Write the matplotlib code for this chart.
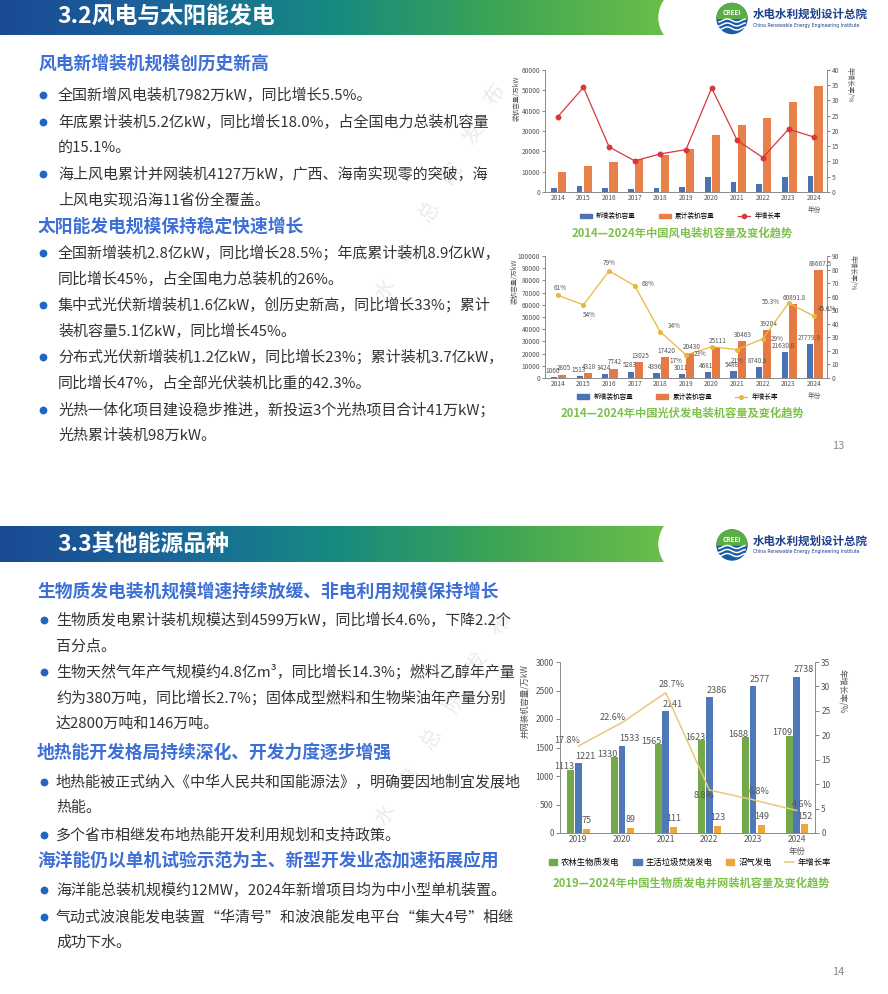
import numpy as np
import matplotlib
matplotlib.use('Agg')
import matplotlib.pyplot as plt
from matplotlib.colors import LinearSegmentedColormap
from matplotlib.patches import Ellipse, Circle, Wedge, Patch
from matplotlib.lines import Line2D

plt.rcParams['font.family'] = ['Noto Sans CJK SC', 'DejaVu Sans']
plt.rcParams['axes.unicode_minus'] = False

W, H = 888, 994

# ---- chart data ----
years_wind = ['2014', '2015', '2016', '2017', '2018', '2019', '2020', '2021', '2022', '2023', '2024']
wind_new = [1981, 3075, 1930, 1503, 2100, 2574, 7167, 4757, 3763, 7566, 7982]
wind_total = [9637, 12934, 14747, 16367, 18426, 21005, 28153, 32848, 36544, 44134, 52068]
wind_growth = [24.7, 34.3, 14.8, 10.2, 12.5, 13.9, 34.1, 16.9, 11.3, 20.6, 18.0]

years_pv = years_wind
pv_new = [1060, 1513, 3424, 5283, 4396, 3011, 4681, 5488, 8740.8, 21630.0, 27779.9]
pv_total = [2805, 4318, 7742, 13025, 17420, 20430, 25111, 30463, 39204, 60891.8, 88667.5]
pv_growth = [61, 54, 79, 68, 34, 17, 23, 21, 29, 55.3, 45.6]

years_bio = ['2019', '2020', '2021', '2022', '2023', '2024']
bio_agri = [1113, 1330, 1565, 1623, 1688, 1709]
bio_waste = [1221, 1533, 2141, 2386, 2577, 2738]
bio_gas = [75, 89, 111, 123, 149, 152]
bio_growth = [17.8, 22.6, 28.7, 8.8, 6.8, 4.6]

# ---- slide text ----
page1 = [
    ('h', 64, '风电新增装机规模创历史新高'),
    ('b', 95, ['全国新增风电装机7982万kW，同比增长5.5%。']),
    ('b', 122, ['年底累计装机5.2亿kW，同比增长18.0%，占全国电力总装机容量', '的15.1%。']),
    ('b', 174, ['海上风电累计并网装机4127万kW，广西、海南实现零的突破，海', '上风电实现沿海11省份全覆盖。']),
    ('h', 227, '太阳能发电规模保持稳定快速增长'),
    ('b', 253, ['全国新增装机2.8亿kW，同比增长28.5%；年底累计装机8.9亿kW，', '同比增长45%，占全国电力总装机的26%。']),
    ('b', 305, ['集中式光伏新增装机1.6亿kW，创历史新高，同比增长33%；累计', '装机容量5.1亿kW，同比增长45%。']),
    ('b', 357, ['分布式光伏新增装机1.2亿kW，同比增长23%；累计装机3.7亿kW，', '同比增长47%，占全部光伏装机比重的42.3%。']),
    ('b', 410, ['光热一体化项目建设稳步推进，新投运3个光热项目合计41万kW；', '光热累计装机98万kW。']),
]
page2 = [
    ('h', 592, '生物质发电装机规模增速持续放缓、非电利用规模保持增长'),
    ('b', 620, ['生物质发电累计装机规模达到4599万kW，同比增长4.6%，下降2.2个', '百分点。']),
    ('b', 672, ['生物天然气年产气规模约4.8亿m³，同比增长14.3%；燃料乙醇年产量',
                '约为380万吨，同比增长2.7%；固体成型燃料和生物柴油年产量分别', '达2800万吨和146万吨。']),
    ('h', 753, '地热能开发格局持续深化、开发力度逐步增强'),
    ('b', 782, ['地热能被正式纳入《中华人民共和国能源法》，明确要因地制宜发展地', '热能。']),
    ('b', 835, ['多个省市相继发布地热能开发利用规划和支持政策。']),
    ('h', 861, '海洋能仍以单机试验示范为主、新型开发业态加速拓展应用'),
    ('b', 890, ['海洋能总装机规模约12MW，2024年新增项目均为中小型单机装置。']),
    ('b', 917, ['气动式波浪能发电装置“华清号”和波浪能发电平台“集大4号”相继', '成功下水。']),
]

fig = plt.figure(figsize=(W / 100, H / 100), dpi=100)
fig.patch.set_facecolor('white')
bg = fig.add_axes([0, 0, 1, 1])
bg.axis('off')


def px_axes(x0, y0, x1, y1):
    return fig.add_axes([x0 / W, 1 - y1 / H, (x1 - x0) / W, (y1 - y0) / H])


band_cmap = LinearSegmentedColormap.from_list(
    'band', ['#1b4a94', '#1a669c', '#168a80', '#3ea553', '#6cbf47'])


def logo(cx, cy):
    bg.add_patch(Circle((cx, cy), 15, color='#1c5aa6', zorder=3))
    bg.add_patch(Wedge((cx, cy), 15, 180, 360, color='#5aae44', zorder=3))
    t = np.linspace(-13, 13, 50)
    for dy in (2, 6, 10):
        bg.plot(cx + t, cy + dy + 1.5 * np.sin(t / 3), color='white', lw=1.1, zorder=4)
    bg.text(cx, cy - 6, 'CREEI', color='white', fontsize=4.5, style='italic',
            fontweight='bold', ha='center', va='center', zorder=5)
    bg.text(cx + 21, cy - 4, '水电水利规划设计总院', fontsize=8.3, fontweight='bold',
            color='#1d3f8c', va='center')
    bg.text(cx + 21, cy + 7, 'China Renewable Energy Engineering Institute', fontsize=3.3,
            color='#1d3f8c', va='center', family='DejaVu Sans')


def header(y0, y1, title):
    grad = np.linspace(0, 1, 300).reshape(1, -1)
    bg.imshow(grad, cmap=band_cmap, extent=[0, 668, y1, y0], aspect='auto', zorder=1)
    bg.add_patch(Ellipse((682, (y0 + y1) / 2), 46, (y1 - y0) * 1.5, color='white', zorder=2))
    bg.text(57, (y0 + y1) / 2, title, color='white', fontsize=16.5, fontweight='bold',
            va='center', zorder=3)
    logo(732, (y0 + y1) / 2 + 1)


def write_block(items, x_head, x_dot, x_txt):
    for kind, y, content in items:
        if kind == 'h':
            bg.text(x_head, y, content, fontsize=12.8, fontweight='bold', color='#3d6fd6', va='center')
        else:
            bg.plot(x_dot, y, 'o', ms=4.6, color='#2166c4', zorder=3)
            for k, s in enumerate(content):
                bg.text(x_txt, y + k * 26, s, fontsize=10.8, color='#333333', va='center')


def watermark(x0, y0, x1, y1):
    for k, ch in enumerate('水电总院发布'):
        f = k / 5
        bg.text(x0 + (x1 - x0) * f, y0 + (y1 - y0) * f, ch, fontsize=15, color='#ebebeb',
                rotation=58, ha='center', va='center', zorder=0.5)


watermark(385, 290, 495, 95)
watermark(385, 815, 500, 625)

header(0, 35, '3.2风电与太阳能发电')
header(526, 562, '3.3其他能源品种')
write_block(page1, 38, 43, 58)
write_block(page2, 37, 44, 56)

bg.text(832, 446, '13', fontsize=8, color='#888888', va='center')
bg.text(832, 972, '14', fontsize=8, color='#888888', va='center')

cap_color = '#7cc24a'
bg.text(682, 233, '2014—2024年中国风电装机容量及变化趋势', fontsize=8.1, fontweight='bold',
        color=cap_color, ha='center', va='center')
bg.text(682, 413, '2014—2024年中国光伏发电装机容量及变化趋势', fontsize=8.1, fontweight='bold',
        color=cap_color, ha='center', va='center')
bg.text(691, 883, '2019—2024年中国生物质发电并网装机容量及变化趋势', fontsize=8.1, fontweight='bold',
        color=cap_color, ha='center', va='center')

bg.set_xlim(0, W)
bg.set_ylim(H, 0)

grey = '#8a8a8a'


def style_axes(ax, ax2, size):
    for a in (ax, ax2):
        a.set_facecolor('none')
        a.spines['top'].set_visible(False)
        for s in ('left', 'right', 'bottom'):
            a.spines[s].set_color(grey)
            a.spines[s].set_linewidth(0.6)
        a.tick_params(labelsize=size, colors='#555555', length=2, width=0.5, pad=1.5)
    ax.tick_params(axis='x', length=0)


def ylabels(ax, left, right, xl, xr, yl, yr, size):
    ax.text(xl, yl, left, transform=ax.transAxes, rotation=90, fontsize=size,
            color='#555555', ha='center', va='center')
    ax.text(xr, yr, right, transform=ax.transAxes, rotation=270, fontsize=size,
            color='#555555', ha='center', va='center')


# ---- wind chart ----
ax = px_axes(545, 70, 827, 192)
ax2 = ax.twinx()
x = np.arange(len(years_wind))
ax.bar(x - 0.15, wind_new, 0.22, color='#4d72b0')
ax.bar(x + 0.17, wind_total, 0.32, color='#e8804a')
ax2.plot(x, wind_growth, color='#d8383c', lw=0.9, marker='o', ms=3.2)
ax.set_xlim(-0.5, 10.5)
ax.set_ylim(0, 60000)
ax.set_yticks(range(0, 60001, 10000))
ax2.set_ylim(0, 40)
ax2.set_yticks(range(0, 41, 5))
ax.set_xticks(x)
ax.set_xticklabels(years_wind)
style_axes(ax, ax2, 4.8)
ax.text(10, -0.15, '年份', transform=ax.get_xaxis_transform(), fontsize=4.8,
        color='#555555', ha='center', va='center')
ylabels(ax, '装机容量/万kW', '年增长率/%', -0.1, 1.08, 0.77, 0.88, 4.8)
ax.legend(handles=[Patch(color='#4d72b0', label='新增装机容量'),
                   Patch(color='#e8804a', label='累计装机容量'),
                   Line2D([], [], color='#d8383c', marker='o', ms=3, lw=0.9, label='年增长率')],
          loc='center', bbox_to_anchor=(0.48, -0.2), ncol=3, frameon=False, fontsize=4.8,
          handlelength=1.8, handleheight=0.7, columnspacing=3.5, handletextpad=0.6)

# ---- PV chart ----
ax = px_axes(545, 256, 827, 378)
ax2 = ax.twinx()
x = np.arange(len(years_pv))
ax.bar(x - 0.15, pv_new, 0.24, color='#4a72b5')
ax.bar(x + 0.17, pv_total, 0.32, color='#e67a45')
ax2.plot(x, pv_growth, color='#e9b83b', lw=0.9, marker='o', ms=2.6)
ax.set_xlim(-0.5, 10.5)
ax.set_ylim(0, 100000)
ax.set_yticks(range(0, 100001, 10000))
ax2.set_ylim(0, 90)
ax2.set_yticks(range(0, 91, 10))
ax.set_xticks(x)
ax.set_xticklabels(years_pv)
style_axes(ax, ax2, 4.8)
ax.text(10, -0.15, '年份', transform=ax.get_xaxis_transform(), fontsize=4.8,
        color='#555555', ha='center', va='center')
ylabels(ax, '装机容量/万kW', '年增长率/%', -0.107, 1.09, 0.79, 0.86, 4.8)
for i in range(len(x)):
    lab_new = '%.1f' % pv_new[i] if i >= 8 else '%d' % pv_new[i]
    lab_tot = '%.1f' % pv_total[i] if i >= 9 else '%d' % pv_total[i]
    ax.annotate(lab_new, (x[i] - 0.15, pv_new[i]), xytext=(-1, 1.5), textcoords='offset points',
                fontsize=4.6, color='#555555', ha='center', va='bottom')
    ax.annotate(lab_tot, (x[i] + 0.17, pv_total[i]), xytext=(1, 1.5), textcoords='offset points',
                fontsize=4.6, color='#555555', ha='center', va='bottom')
pv_off = [(2, 5), (4, -7), (0, 6), (10, 1), (10, 4), (-7, -4), (-8, -5), (0, -8), (10, 0), (-13, 1), (9, 5)]
for i in range(len(x)):
    ax2.annotate('%g%%' % pv_growth[i], (x[i], pv_growth[i]), xytext=pv_off[i],
                 textcoords='offset points', fontsize=4.6, color='#555555', ha='center', va='center')
ax.legend(handles=[Patch(color='#4a72b5', label='新增装机容量'),
                   Patch(color='#e67a45', label='累计装机容量'),
                   Line2D([], [], color='#e9b83b', marker='o', ms=2.6, lw=0.9, label='年增长率')],
          loc='center', bbox_to_anchor=(0.47, -0.155), ncol=3, frameon=False, fontsize=4.8,
          handlelength=1.8, handleheight=0.7, columnspacing=3.5, handletextpad=0.6)

# ---- biomass chart ----
ax = px_axes(560, 662, 815, 833)
ax2 = ax.twinx()
x = np.arange(len(years_bio))
c_agri, c_waste, c_gas, c_line = '#74a94a', '#4f78b8', '#f0a53a', '#e8c87a'
ax.bar(x - 0.17, bio_agri, 0.16, color=c_agri)
ax.bar(x, bio_waste, 0.16, color=c_waste)
ax.bar(x + 0.19, bio_gas, 0.16, color=c_gas)
ax2.plot(x, bio_growth, color=c_line, lw=1.1)
ax.set_xlim(-0.42, 5.42)
ax.set_ylim(0, 3000)
ax.set_yticks(range(0, 3001, 500))
ax2.set_ylim(0, 35)
ax2.set_yticks(range(0, 36, 5))
ax.set_xticks(x)
ax.set_xticklabels(years_bio)
style_axes(ax, ax2, 6)
ax.tick_params(axis='y', length=3)
ax2.tick_params(axis='y', length=3)
ax.text(5, -0.11, '年份', transform=ax.get_xaxis_transform(), fontsize=6,
        color='#555555', ha='center', va='center')
ylabels(ax, '并网装机容量/万kW', '年增长率/%', -0.14, 1.11, 0.77, 0.83, 6)
for i in range(len(x)):
    ax.annotate('%d' % bio_agri[i], (x[i] - 0.17, bio_agri[i]), xytext=(-5, 2),
                textcoords='offset points', fontsize=6.5, color='#555555', ha='center', va='center')
    ax.annotate('%d' % bio_waste[i], (x[i], bio_waste[i]), xytext=(5, 5),
                textcoords='offset points', fontsize=6.5, color='#555555', ha='center', va='center')
    ax.annotate('%d' % bio_gas[i], (x[i] + 0.19, bio_gas[i]), xytext=(0, 6),
                textcoords='offset points', fontsize=6.5, color='#555555', ha='center', va='center')
bio_off = [(-8, 4), (-7, 4), (4, 6), (-4, -4), (4, 6), (4, 4)]
for i in range(len(x)):
    ax2.annotate('%.1f%%' % bio_growth[i], (x[i], bio_growth[i]), xytext=bio_off[i],
                 textcoords='offset points', fontsize=6.5, color='#555555', ha='center', va='center')
ax.legend(handles=[Patch(color=c_agri, label='农林生物质发电'),
                   Patch(color=c_waste, label='生活垃圾焚烧发电'),
                   Patch(color=c_gas, label='沼气发电'),
                   Line2D([], [], color=c_line, lw=1.1, label='年增长率')],
          loc='center', bbox_to_anchor=(0.51, -0.17), ncol=4, frameon=False, fontsize=6,
          handlelength=1.0, handleheight=0.7, columnspacing=1.6, handletextpad=0.5)

fig.savefig('out.png', dpi=100, facecolor='white')
